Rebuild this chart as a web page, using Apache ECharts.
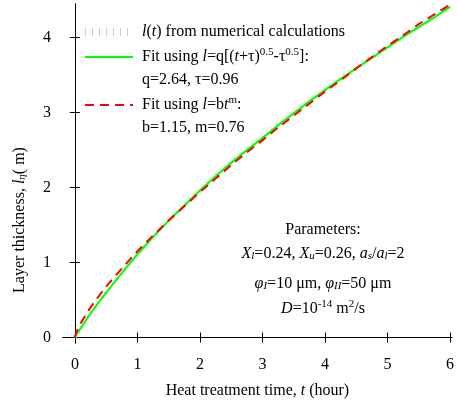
<!DOCTYPE html>
<html><head><meta charset="utf-8">
<script src="https://cdn.jsdelivr.net/npm/echarts@6/dist/echarts.min.js"></script>
<style>html,body{margin:0;padding:0;background:#fff}#c{width:457px;height:408px}</style>
</head><body><div id="c"></div>
<script>
// ---- data ----
var tNum   = [0, 0.05, 0.1, 0.2, 0.3, 0.5, 0.75, 1, 1.25, 1.5, 1.75, 2, 2.25, 2.5, 2.75, 3, 3.25, 3.5, 3.75, 4, 4.25, 4.5, 4.75, 5, 5.25, 5.5, 5.75, 6];
var lNum   = [0, 0.07, 0.14, 0.27, 0.39, 0.61, 0.87, 1.12, 1.34, 1.56, 1.77, 1.96, 2.15, 2.33, 2.50, 2.67, 2.84, 3.00, 3.16, 3.31, 3.46, 3.60, 3.74, 3.88, 4.02, 4.15, 4.28, 4.41];
var tFit   = [0, 0.05, 0.1, 0.2, 0.3, 0.5, 0.75, 1, 1.25, 1.5, 1.75, 2, 2.25, 2.5, 2.75, 3, 3.25, 3.5, 3.75, 4, 4.25, 4.5, 4.75, 5, 5.25, 5.5, 5.75, 6];
var lSqrt  = [0, 0.07, 0.13, 0.26, 0.38, 0.60, 0.86, 1.11, 1.34, 1.56, 1.76, 1.96, 2.15, 2.33, 2.50, 2.66, 2.83, 2.99, 3.15, 3.30, 3.45, 3.59, 3.73, 3.87, 4.01, 4.14, 4.27, 4.41];
var tPow   = [0, 0.02, 0.05, 0.1, 0.2, 0.3, 0.5, 0.75, 1, 1.25, 1.5, 1.75, 2, 2.25, 2.5, 2.75, 3, 3.25, 3.5, 3.75, 4, 4.25, 4.5, 4.75, 5, 5.25, 5.5, 5.75, 6];
var lPow   = [0, 0.06, 0.12, 0.20, 0.34, 0.46, 0.68, 0.92, 1.15, 1.36, 1.56, 1.75, 1.94, 2.12, 2.30, 2.47, 2.63, 2.80, 2.96, 3.12, 3.28, 3.43, 3.59, 3.74, 3.89, 4.03, 4.18, 4.31, 4.44];
var xTicks = [0, 1, 2, 3, 4, 5, 6];
var yTicks = [0, 1, 2, 3, 4];

var names = ['l(t) from numerical calculations', 'Fit using l=q[(t+τ)^0.5-τ^0.5]:', 'q=2.64, τ=0.96', 'Fit using l=bt^m:', 'b=1.15, m=0.76'];
var richNames = {};
richNames[names[0]] = '{i|l}({i|t}) from numerical calculations';
richNames[names[1]] = 'Fit using {i|l}=q[({i|t}+τ){sup|0.5}-τ{sup|0.5}]:';
richNames[names[2]] = 'q=2.64, τ=0.96';
richNames[names[3]] = 'Fit using {i|l}=b{i|t}{sup|m}:';
richNames[names[4]] = 'b=1.15, m=0.76';

function pairs(xs, ys){ return xs.map(function(x,i){ return [x, ys[i]]; }); }

var FONT = 'Liberation Serif';
var rich = {
  i:   {fontFamily: FONT, fontSize: 16, fontStyle: 'italic', color: '#000'},
  sup: {fontFamily: FONT, fontSize: 11, color: '#000', verticalAlign: 'top', lineHeight: 20},
  sub: {fontFamily: FONT, fontSize: 11, fontStyle: 'italic', color: '#000', verticalAlign: 'bottom', lineHeight: 14},
  n:   {fontFamily: FONT, fontSize: 16, color: '#000'}
};

var chart = echarts.init(document.getElementById('c'), null, {renderer: 'canvas'});
var axisLine = {show: true, lineStyle: {color: '#000', width: 1}};
var xMin = -0.19, xMax = 6.03, yMin = -0.073, yMax = 4.449;

chart.setOption({
  animation: false,
  backgroundColor: '#fff',
  textStyle: {fontFamily: FONT},
  grid: {left: 63, right: -1, top: 4, bottom: 65, containLabel: false},
  xAxis: [{
    type: 'value', min: xMin, max: xMax, position: 'bottom',
    axisLine: axisLine,
    axisTick: {show: true, inside: true, length: 5, customValues: xTicks, lineStyle: {color: '#000'}},
    axisLabel: {customValues: xTicks, margin: 14, fontSize: 16, fontFamily: FONT, color: '#000',
                alignMinLabel: 'center', alignMaxLabel: 'center', hideOverlap: false},
    splitLine: {show: false},
    name: 'Heat treatment time, {i|t} (hour)',
    nameLocation: 'middle', nameGap: 40,
    nameTextStyle: {fontSize: 16, fontFamily: FONT, color: '#000', rich: rich}
  }, {
    type: 'value', min: xMin, max: xMax, position: 'top',
    axisLine: axisLine,
    axisTick: {show: true, inside: true, length: 5, customValues: xTicks, lineStyle: {color: '#000'}},
    axisLabel: {show: false}, splitLine: {show: false}
  }],
  yAxis: [{
    type: 'value', min: yMin, max: yMax, position: 'left',
    axisLine: axisLine,
    axisTick: {show: true, inside: true, length: 5, customValues: yTicks, lineStyle: {color: '#000'}},
    axisLabel: {customValues: yTicks, margin: 12, fontSize: 16, fontFamily: FONT, color: '#000'},
    splitLine: {show: false}
  }, {
    type: 'value', min: yMin, max: yMax, position: 'right',
    axisLine: axisLine,
    axisTick: {show: true, inside: true, length: 5, customValues: yTicks, lineStyle: {color: '#000'}},
    axisLabel: {show: false}, splitLine: {show: false}
  }],
  legend: {
    orient: 'vertical', left: 76, top: 19, itemWidth: 48, itemHeight: 14, itemGap: 7,
    itemStyle: {opacity: 0},
    data: [
      {name: names[0], lineStyle: {color: '#cfcfcf', width: 8, type: [1, 6]}},
      {name: names[1]},
      {name: names[2], icon: 'none'},
      {name: names[3]},
      {name: names[4], icon: 'none'}
    ],
    formatter: function(n){ return richNames[n]; },
    textStyle: {fontFamily: FONT, fontSize: 16, color: '#000', rich: rich, padding: [0,0,0,4]},
    selectedMode: false
  },
  series: [{
    name: names[0], type: 'line', data: pairs(tNum, lNum), showSymbol: false, symbol: 'none',
    lineStyle: {color: '#d8d8d8', width: 6, type: [1, 5]}, z: 1
  }, {
    name: names[1], type: 'line', data: pairs(tFit, lSqrt), showSymbol: false, symbol: 'none',
    lineStyle: {color: '#00ff00', width: 2}, z: 2
  }, {
    name: names[2], type: 'line', data: []
  }, {
    name: names[3], type: 'line', data: pairs(tPow, lPow), showSymbol: false, symbol: 'none',
    lineStyle: {color: '#ff0000', width: 2, type: [9, 6]}, z: 3
  }, {
    name: names[4], type: 'line', data: []
  }],
  graphic: [{
    type: 'text', x: 20, y: 220, rotation: Math.PI / 2,
    style: {text: 'Layer thickness, {i|l}{sub|η}( m)', rich: rich, fontFamily: FONT, fontSize: 16, fill: '#000',
            align: 'center', verticalAlign: 'middle'}
  }, {
    type: 'text', x: 323, y: 230,
    style: {text: 'Parameters:', fontFamily: FONT, fontSize: 16, fill: '#000', align: 'center', verticalAlign: 'middle'}
  }, {
    type: 'text', x: 323, y: 254,
    style: {text: '{i|X}{sub|l}=0.24, {i|X}{sub|u}=0.26, {i|a}{sub|s}/{i|a}{sub|l}=2', rich: rich,
            fontFamily: FONT, fontSize: 16, fill: '#000', align: 'center', verticalAlign: 'middle'}
  }, {
    type: 'text', x: 323, y: 284,
    style: {text: '{i|φ}{sub|I}=10 μm, {i|φ}{sub|II}=50 μm', rich: rich,
            fontFamily: FONT, fontSize: 16, fill: '#000', align: 'center', verticalAlign: 'middle'}
  }, {
    type: 'text', x: 323, y: 309,
    style: {text: '{i|D}=10{sup|-14} m{sup|2}/s', rich: rich,
            fontFamily: FONT, fontSize: 16, fill: '#000', align: 'center', verticalAlign: 'middle'}
  }]
});
</script>
</body></html>
